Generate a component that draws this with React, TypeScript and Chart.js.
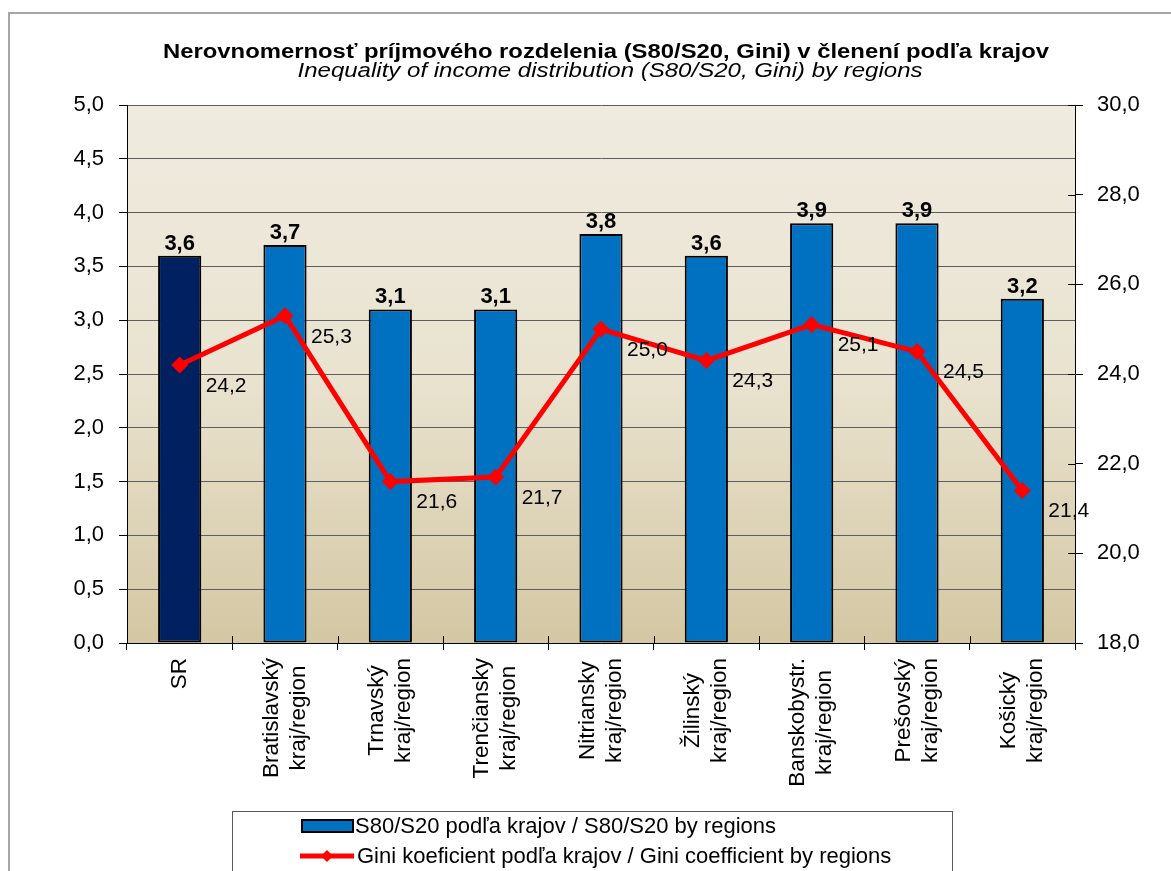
import React, { useEffect, useRef } from "react";
import { Chart, registerables } from "chart.js";

Chart.register(...registerables);

// ---------- data ----------
const categories: string[][] = [
  ["SR"],
  ["Bratislavský", "kraj/region"],
  ["Trnavský", "kraj/region"],
  ["Trenčiansky", "kraj/region"],
  ["Nitriansky", "kraj/region"],
  ["Žilinský", "kraj/region"],
  ["Banskobystr.", "kraj/region"],
  ["Prešovský", "kraj/region"],
  ["Košický", "kraj/region"],
];
const s80s20Values = [3.6, 3.7, 3.1, 3.1, 3.8, 3.6, 3.9, 3.9, 3.2];
const giniValues = [24.2, 25.3, 21.6, 21.7, 25.0, 24.3, 25.1, 24.5, 21.4];
const barColors = [
  "#002060",
  "#0070C0",
  "#0070C0",
  "#0070C0",
  "#0070C0",
  "#0070C0",
  "#0070C0",
  "#0070C0",
  "#0070C0",
];
const titleText =
  "Nerovnomernosť príjmového rozdelenia (S80/S20, Gini) v členení podľa krajov";
const subtitleText =
  "Inequality of income distribution (S80/S20, Gini) by regions";
const legendLabels = [
  "S80/S20 podľa krajov / S80/S20 by regions",
  "Gini koeficient podľa krajov / Gini coefficient by regions",
];
const leftAxisMin = 0;
const leftAxisMax = 5;
const leftAxisStep = 0.5;
const rightAxisMin = 18;
const rightAxisMax = 30;
const rightAxisStep = 2;

const FONT = '"Liberation Sans", Arial, sans-serif';
const fmt = (v: number) => v.toFixed(1).replace(".", ",");

export default function App() {
  const ref = useRef<HTMLCanvasElement>(null);

  useEffect(() => {
    const canvas = ref.current;
    if (!canvas) return;

    const drawStretched = (
      ctx: CanvasRenderingContext2D,
      text: string,
      cx: number,
      baseline: number,
      targetWidth: number
    ) => {
      const w = ctx.measureText(text).width;
      const sx = targetWidth / w;
      ctx.save();
      ctx.translate(cx, baseline);
      ctx.scale(sx, 1);
      ctx.textAlign = "center";
      ctx.textBaseline = "alphabetic";
      ctx.fillText(text, 0, 0);
      ctx.restore();
    };

    const decor = {
      id: "decor",
      beforeDraw(chart: any) {
        const { ctx, chartArea: a } = chart;
        ctx.save();
        ctx.fillStyle = "#FFFFFF";
        ctx.fillRect(0, 0, chart.width, chart.height);
        const g = ctx.createLinearGradient(0, a.top, 0, a.bottom);
        g.addColorStop(0, "#EFEBDF");
        g.addColorStop(0.5, "#E9E3D0");
        g.addColorStop(1, "#D4C7A3");
        ctx.fillStyle = g;
        ctx.fillRect(a.left, a.top, a.right - a.left, a.bottom - a.top);
        // outer frame
        ctx.strokeStyle = "#A6A6A6";
        ctx.lineWidth = 2;
        ctx.strokeRect(9, 13, 1400, 1000);
        ctx.restore();
      },
      afterDatasetsDraw(chart: any) {
        const { ctx } = chart;
        ctx.save();
        ctx.fillStyle = "#000";
        // bar value labels
        const barMeta = chart.getDatasetMeta(1);
        ctx.font = `bold 22px ${FONT}`;
        ctx.textAlign = "center";
        ctx.textBaseline = "alphabetic";
        barMeta.data.forEach((el: any, i: number) => {
          ctx.fillText(fmt(s80s20Values[i]), el.x, el.y - 6);
        });
        // gini labels
        const lineMeta = chart.getDatasetMeta(0);
        ctx.font = `21px ${FONT}`;
        ctx.textAlign = "left";
        ctx.textBaseline = "middle";
        lineMeta.data.forEach((el: any, i: number) => {
          ctx.fillText(fmt(giniValues[i]), el.x + 26, el.y + 21);
        });
        ctx.restore();
      },
      afterDraw(chart: any) {
        const { ctx, chartArea: a } = chart;
        ctx.save();
        // inward parts of crossing tick marks
        ctx.strokeStyle = "#000";
        ctx.lineWidth = 1;
        const r = chart.scales.y1;
        for (let v = rightAxisMin; v <= rightAxisMax; v += rightAxisStep) {
          const y = Math.round(r.getPixelForValue(v)) + 0.5;
          ctx.beginPath();
          ctx.moveTo(a.right - 7, y);
          ctx.lineTo(a.right, y);
          ctx.stroke();
        }
        const xs = chart.scales.x;
        for (let i = 0; i <= categories.length; i++) {
          const x = Math.round(xs.getPixelForValue(i - 0.5)) + 0.5;
          ctx.beginPath();
          ctx.moveTo(x, a.bottom - 7);
          ctx.lineTo(x, a.bottom);
          ctx.stroke();
        }

        // title
        ctx.fillStyle = "#000";
        ctx.font = `bold 20px ${FONT}`;
        drawStretched(ctx, titleText, 606, 58, 886);
        ctx.font = `italic 20px ${FONT}`;
        drawStretched(ctx, subtitleText, 610, 77, 625);

        // category labels (rotated, lines centred)
        ctx.font = `22.5px ${FONT}`;
        categories.forEach((lines, i) => {
          const cx = xs.getPixelForValue(i);
          const maxW = Math.max(...lines.map((l) => ctx.measureText(l).width));
          const lineH = 27;
          ctx.save();
          ctx.translate(cx, a.bottom + 15 + maxW / 2);
          ctx.rotate(-Math.PI / 2);
          ctx.textAlign = "center";
          ctx.textBaseline = "middle";
          lines.forEach((l, j) => {
            ctx.fillText(l, 0, (j - (lines.length - 1) / 2) * lineH);
          });
          ctx.restore();
        });

        // legend
        ctx.strokeStyle = "#595959";
        ctx.lineWidth = 1;
        ctx.strokeRect(232.5, 811.5, 720, 80);
        ctx.fillStyle = "#0070C0";
        ctx.fillRect(302, 820, 51, 12);
        ctx.strokeStyle = "#000";
        ctx.lineWidth = 2;
        ctx.strokeRect(302, 820, 51, 12);
        ctx.strokeStyle = "#FF0000";
        ctx.lineWidth = 5;
        ctx.beginPath();
        ctx.moveTo(300, 856);
        ctx.lineTo(354, 856);
        ctx.stroke();
        ctx.fillStyle = "#FF0000";
        ctx.beginPath();
        ctx.moveTo(327, 850);
        ctx.lineTo(333, 856);
        ctx.lineTo(327, 862);
        ctx.lineTo(321, 856);
        ctx.closePath();
        ctx.fill();
        ctx.fillStyle = "#000";
        ctx.font = `22px ${FONT}`;
        ctx.textAlign = "left";
        ctx.textBaseline = "middle";
        ctx.fillText(legendLabels[0], 355, 827);
        ctx.fillText(legendLabels[1], 357, 857);
        ctx.restore();
      },
    };

    const chart = new Chart(canvas, {
      type: "bar",
      data: {
        labels: categories,
        datasets: [
          {
            type: "line",
            label: legendLabels[1],
            data: giniValues,
            yAxisID: "y1",
            borderColor: "#FF0000",
            borderWidth: 5,
            backgroundColor: "#FF0000",
            pointStyle: "rectRot",
            pointRadius: 8,
            pointBorderWidth: 1,
            pointBackgroundColor: "#FF0000",
            pointBorderColor: "#FF0000",
            tension: 0,
            order: 0,
          } as any,
          {
            type: "bar",
            label: legendLabels[0],
            data: s80s20Values,
            yAxisID: "y",
            backgroundColor: barColors,
            borderColor: "#000",
            borderWidth: 2,
            borderSkipped: false,
            barPercentage: 0.41,
            categoryPercentage: 1,
            order: 1,
          },
        ],
      },
      options: {
        responsive: false,
        maintainAspectRatio: false,
        devicePixelRatio: 1,
        animation: false,
        layout: { padding: { top: 105, left: 0, right: 0, bottom: 0 } },
        plugins: {
          legend: { display: false },
          title: { display: false },
          tooltip: { enabled: false },
        },
        scales: {
          x: {
            offset: true,
            grid: {
              offset: true,
              drawOnChartArea: false,
              drawTicks: true,
              tickLength: 7,
              color: "#000",
            },
            border: { color: "#000", width: 1 },
            ticks: { display: false },
            afterFit: (s: any) => {
              s.height = 228;
            },
          },
          y: {
            position: "left",
            min: leftAxisMin,
            max: leftAxisMax,
            ticks: {
              stepSize: leftAxisStep,
              callback: (v: any) => fmt(Number(v)),
              font: { family: FONT, size: 22 },
              color: "#000",
              padding: 15,
            },
            grid: {
              color: "#5E5E5E",
              lineWidth: 1,
              tickLength: 8,
              tickColor: "#000",
            },
            border: { color: "#000", width: 1 },
            afterFit: (s: any) => {
              s.width = 127;
            },
          },
          y1: {
            position: "right",
            min: rightAxisMin,
            max: rightAxisMax,
            ticks: {
              stepSize: rightAxisStep,
              callback: (v: any) => fmt(Number(v)),
              font: { family: FONT, size: 22 },
              color: "#000",
              padding: 14,
            },
            grid: {
              drawOnChartArea: false,
              tickLength: 8,
              color: "#000",
            },
            border: { color: "#000", width: 1 },
            afterFit: (s: any) => {
              s.width = 96;
            },
          },
        },
      },
      plugins: [decor],
    });

    return () => chart.destroy();
  }, []);

  return (
    <div
      style={{
        position: "absolute",
        left: 0,
        top: 0,
        width: 1171,
        height: 871,
        overflow: "hidden",
        background: "#fff",
      }}
    >
      <canvas
        ref={ref}
        width={1171}
        height={871}
        style={{ display: "block", width: 1171, height: 871 }}
      />
    </div>
  );
}
